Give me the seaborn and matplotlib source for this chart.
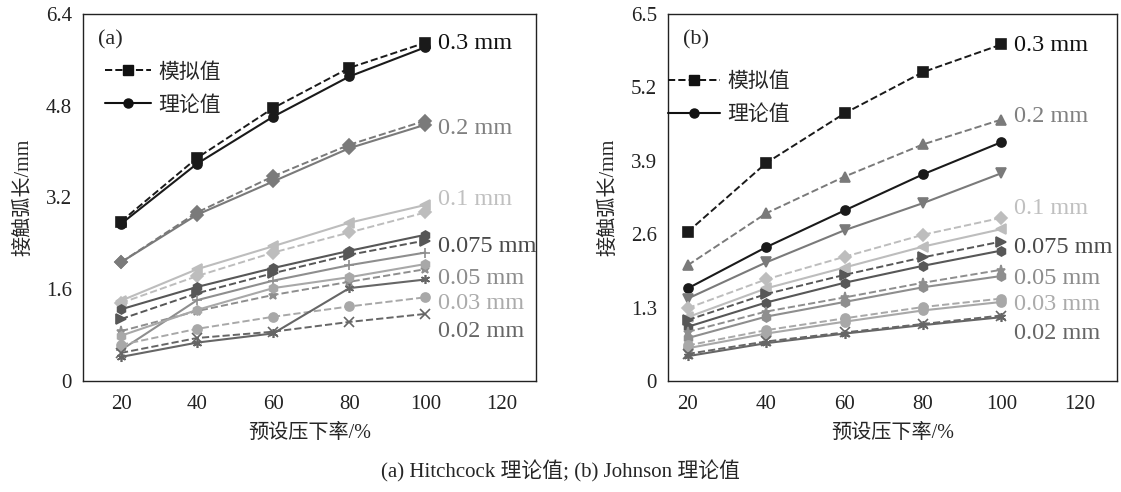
import numpy as np
import matplotlib
import matplotlib.pyplot as plt
import seaborn as sns
from matplotlib.lines import Line2D

matplotlib.use('Agg')
sns.set_style("white")
plt.rcParams['font.family'] = ['Liberation Serif', 'Noto Sans CJK SC']
plt.rcParams['mathtext.fontset'] = 'stix'

# preset reduction (%)
strain = [20, 40, 60, 80, 100]
sizes = ['0.3 mm', '0.2 mm', '0.1 mm', '0.075 mm', '0.05 mm', '0.03 mm', '0.02 mm']

# (a) simulated values (dashed)
sim_a_03 = [2.78, 3.89, 4.76, 5.46, 5.90]
sim_a_02 = [2.07, 2.94, 3.57, 4.12, 4.54]
sim_a_01 = [1.36, 1.83, 2.24, 2.59, 2.94]
sim_a_0075 = [1.08, 1.53, 1.88, 2.20, 2.45]
sim_a_005 = [0.87, 1.22, 1.50, 1.73, 1.95]
sim_a_003 = [0.63, 0.91, 1.12, 1.30, 1.46]
sim_a_002 = [0.49, 0.75, 0.86, 1.03, 1.17]
# (a) Hitchcock theory (solid)
th_a_03 = [2.74, 3.79, 4.61, 5.31, 5.82]
th_a_02 = [2.07, 2.90, 3.48, 4.06, 4.47]
th_a_01 = [1.40, 1.95, 2.35, 2.76, 3.07]
th_a_0075 = [1.25, 1.64, 1.97, 2.27, 2.55]
th_a_005 = [0.54, 1.41, 1.75, 2.02, 2.24]
th_a_003 = [0.79, 1.24, 1.62, 1.81, 2.04]
th_a_002 = [0.42, 0.67, 0.83, 1.62, 1.77]

# (b) simulated values (dashed)
sim_b_03 = [2.64, 3.86, 4.74, 5.47, 5.96]
sim_b_02 = [2.05, 2.97, 3.62, 4.19, 4.63]
sim_b_01 = [1.29, 1.80, 2.20, 2.59, 2.89]
sim_b_0075 = [1.08, 1.54, 1.88, 2.19, 2.47]
sim_b_005 = [0.87, 1.23, 1.48, 1.74, 1.97]
sim_b_003 = [0.63, 0.90, 1.11, 1.31, 1.46]
sim_b_002 = [0.48, 0.70, 0.86, 1.01, 1.16]
# (b) Johnson theory (solid)
th_b_03 = [1.64, 2.37, 3.02, 3.66, 4.23]
th_b_02 = [1.46, 2.10, 2.67, 3.15, 3.68]
th_b_01 = [1.13, 1.64, 2.01, 2.38, 2.69]
th_b_0075 = [0.96, 1.39, 1.74, 2.04, 2.31]
th_b_005 = [0.76, 1.14, 1.40, 1.66, 1.86]
th_b_003 = [0.58, 0.84, 1.05, 1.25, 1.40]
th_b_002 = [0.44, 0.67, 0.84, 0.99, 1.13]

# where the size labels sit (data y)
label_y_a = [5.88, 4.40, 3.16, 2.34, 1.78, 1.36, 0.86]
label_y_b = [5.95, 4.68, 3.05, 2.37, 1.81, 1.35, 0.85]

yticks_a = [0, 1.6, 3.2, 4.8, 6.4]
yticks_b = [0, 1.3, 2.6, 3.9, 5.2, 6.5]
xticks = [20, 40, 60, 80, 100, 120]

line_colors = ['#1a1a1a', '#7a7a7a', '#bdbdbd', '#575757', '#8e8e8e', '#a8a8a8', '#666666']
text_colors = ['#111111', '#808080', '#c0c0c0', '#4a4a4a', '#8c8c8c', '#ababab', '#666666']
AST = (6, 2, 0)  # asterisk marker

sim_a = [sim_a_03, sim_a_02, sim_a_01, sim_a_0075, sim_a_005, sim_a_003, sim_a_002]
th_a = [th_a_03, th_a_02, th_a_01, th_a_0075, th_a_005, th_a_003, th_a_002]
sim_b = [sim_b_03, sim_b_02, sim_b_01, sim_b_0075, sim_b_005, sim_b_003, sim_b_002]
th_b = [th_b_03, th_b_02, th_b_01, th_b_0075, th_b_005, th_b_003, th_b_002]

mk_sim_a = ['s', 'D', 'D', '>', '*', 'o', 'x']
mk_th_a = ['o', 'D', '<', 'h', '+', 'h', AST]
mk_sim_b = ['s', '^', 'D', '>', '*', 'o', 'x']
mk_th_b = ['o', 'v', '<', 'h', 'h', 'o', AST]

fig = plt.figure(figsize=(11.21, 4.92), dpi=100)
ax_a = fig.add_axes([0.074, 0.2256, 0.404, 0.746])
ax_b = fig.add_axes([0.596, 0.2256, 0.4005, 0.746])


def draw_panel(ax, sims, ths, mk_s, mk_t, label_y, yticks, xlim, tag):
    for i in range(len(sizes)):
        c = line_colors[i]
        sns.lineplot(x=strain, y=sims[i], ax=ax, color=c, linestyle='--',
                     linewidth=1.4, marker=mk_s[i], markersize=6.5,
                     markeredgecolor=c, markeredgewidth=1.2)
        sns.lineplot(x=strain, y=ths[i], ax=ax, color=c, linestyle='-',
                     linewidth=1.5, marker=mk_t[i], markersize=6.5,
                     markeredgecolor=c, markeredgewidth=1.2)
        ax.text(103.3, label_y[i], sizes[i], color=text_colors[i], fontsize=17.5,
                va='center', ha='left')
    ax.set_xlim(*xlim)
    ax.set_ylim(yticks[0], yticks[-1])
    ax.set_xticks(xticks)
    ax.set_yticks(yticks)
    ax.set_yticklabels([f'{t:g}' for t in yticks])
    ax.tick_params(axis='both', direction='in', length=5, width=1, labelsize=15,
                   colors='#222222')
    ax.tick_params(axis='x', pad=10)
    ax.tick_params(axis='y', pad=8)
    for s in ax.spines.values():
        s.set_color('#222222')
        s.set_linewidth(1.0)
    ax.set_xlabel('预设压下率/%', fontsize=14.5, labelpad=7)
    ax.set_ylabel('接触弧长/mm', fontsize=14.5, labelpad=9)
    ax.text(0.033, 0.955, tag, transform=ax.transAxes, fontsize=16,
            va='top', ha='left')


draw_panel(ax_a, sim_a, th_a, mk_sim_a, mk_th_a, label_y_a, yticks_a, (10, 129), '(a)')
draw_panel(ax_b, sim_b, th_b, mk_sim_b, mk_th_b, label_y_b, yticks_b, (15, 129.5), '(b)')

handles = [Line2D([], [], color='#111111', linestyle='--', linewidth=1.4,
                  marker='s', markersize=6.5),
           Line2D([], [], color='#111111', linestyle='-', linewidth=1.5,
                  marker='o', markersize=6.5)]
leg_labels = ['模拟值', '理论值']
for ax, anchor, hl in [(ax_a, (0.049, 0.866), 2.2), (ax_b, (0.0, 0.84), 2.5)]:
    ax.legend(handles, leg_labels, loc='upper left', bbox_to_anchor=anchor,
              frameon=False, fontsize=15, handlelength=hl, handletextpad=0.35,
              labelspacing=0.62, borderaxespad=0, borderpad=0)

fig.text(0.5, 0.042, '(a) Hitchcock 理论值; (b) Johnson 理论值', ha='center',
         va='center', fontsize=15)

fig.savefig('out.png', dpi=100)
